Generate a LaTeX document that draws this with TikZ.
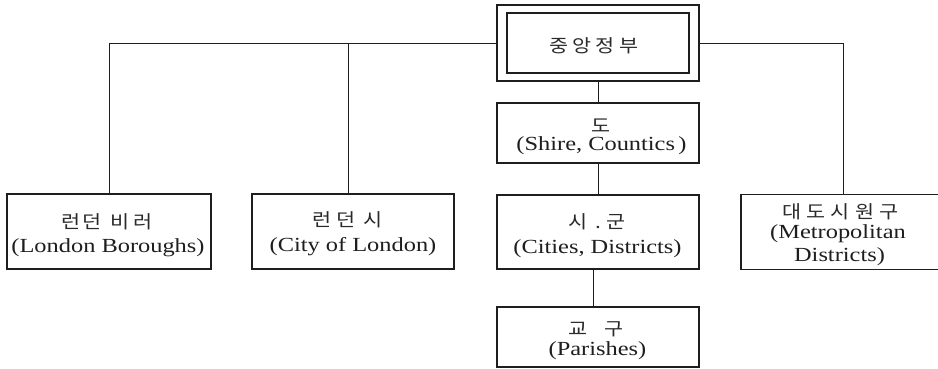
\documentclass[tikz,border=0pt]{standalone}
\usepackage{fontspec}
\setmainfont[FakeStretch=1.22]{Liberation Serif}
\newfontfamily\kr[FakeStretch=1.15]{Noto Sans CJK KR}
\newcommand\krf{\fontsize{18}{20}\selectfont\kr}
\newcommand\laf{\fontsize{20}{22}\selectfont\rmfamily}
\newcommand\kg[1][4]{\hspace{#1pt}}
\definecolor{ink}{HTML}{1E1E1E}
\definecolor{kink}{HTML}{2A2A2A}
\tikzset{
  box/.style={draw=ink, line width=1.1pt, rectangle, inner sep=0pt, minimum width=202pt},
  kt/.style={anchor=base, inner sep=0pt, font=\krf, text=kink},
  lt/.style={anchor=base, inner sep=0pt, font=\laf, text=ink},
  link/.style={draw=ink, line width=1pt}
}
\begin{document}
\begin{tikzpicture}[x=1pt,y=-1pt]
\useasboundingbox[fill=white] (0,0) rectangle (938,368);
% boxes
\node[box, minimum height=76pt] (gov) at (598,43) {};
\node[box, minimum width=182pt, minimum height=60pt] (govin) at (598,43) {};
\node[box, minimum height=60pt] (do) at (598,133) {};
\node[box, minimum height=74pt] (sigun) at (598,232) {};
\node[box, minimum height=60pt] (gyogu) at (598,337) {};
\node[box, minimum width=204pt, minimum height=75pt] (lb) at (109,231.5) {};
\node[box, minimum height=75pt] (city) at (353,231.5) {};
\node[box, minimum width=199pt, minimum height=75pt] (metro) at (840.5,232) {};
% junctions
\coordinate (cj) at (348,43);
\coordinate (mj) at (843,43);
% connectors
\draw[link] (gov.west) -| (lb.north);
\draw[link] (cj) -- (cj |- city.north);
\draw[link] (gov.east) -- (mj) -- (mj |- metro.north);
\draw[link] (gov.south) -- (do.north);
\draw[link] (do.south) -- (sigun.north);
\draw[link] ([xshift=-5pt]sigun.south) -- ([xshift=-5pt]gyogu.north);
% texts
\node[kt] (govk) at (594,52.3) {중\kg 앙\kg 정\kg 부};
\node[kt] (dok) at (601,132.5) {도};
\node[lt] (dol) at (601.5,150.5) {(Shire, Countics\,)};
\node[kt] (sgk) at (597,228.3) {시\kg[7.8].\kg[6]군};
\node[lt] (sgl) at (597.5,253.5) {(Cities, Districts)};
\node[kt] (ggk) at (596,335.8) {교\kg[17.3]구};
\node[lt] (ggl) at (597.5,355) {(Parishes)};
\node[kt] (lbk) at (107.5,228.3) {런\kg[1.3]던\kg[9.3]비\kg[4.3]러};
\node[lt] (lbl) at (108,252.5) {(London Boroughs)};
\node[kt] (cityk) at (347.5,226.8) {런\kg[5.3]던\kg[8.3]시};
\node[lt] (cityl) at (353,251.6) {(City of London)};
\node[kt] (mk) at (840.5,218.3) {대\kg[5.3]도\kg[5.3]시\kg[5.3]원\kg[5.3]구};
\node[lt] (ml1) at (838,238.5) {(Metropolitan};
\node[lt] (ml2) at (839.5,261) {Districts)};
\end{tikzpicture}
\end{document}
